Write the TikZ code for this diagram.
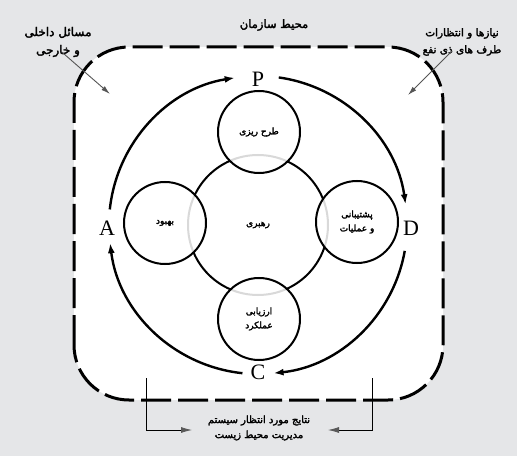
\documentclass[tikz,border=0pt]{standalone}
\usepackage{fontspec}
\newfontfamily\fafont[Script=Arabic,FakeBold=2.5]{DejaVu Sans}
\newfontfamily\letterfont{Liberation Serif}
\TeXXeTstate=1
\usetikzlibrary{arrows.meta,calc}
\definecolor{bggray}{HTML}{E5E6E8}
\definecolor{notegray}{HTML}{555555}
\begin{document}
\begin{tikzpicture}[x=1pt,y=1pt,
  ring/.style={line width=2.4pt,-{Latex[length=10pt,width=7pt]}},
  sat/.style={circle,draw,line width=2pt,fill=white,fill opacity=0.85,text opacity=1,
    minimum size=82pt,inner sep=0pt,align=center,font=\fafont\fontsize{9}{14}\selectfont},
  letter/.style={font=\letterfont\fontsize{22}{24}\selectfont,inner sep=0pt},
  fatext/.style={align=center,inner sep=0pt,font=\fafont\fontsize{10.5}{17}\selectfont},
  note/.style={draw=notegray,line width=0.9pt,-{Latex[length=9pt,width=5pt]}},
  bracket/.style={draw=black,line width=0.8pt,-{Latex[length=11pt,width=6pt,fill=black!65,color=black!65]}}]
\fill[bggray] (0,0) rectangle (517,456);
\useasboundingbox (0,0) rectangle (517,456);
% organisation boundary
\fill[white,rounded corners=55pt] (74,56) rectangle (443,409);
\draw[line width=3pt,dash pattern=on 30pt off 7pt,rounded corners=55pt] (74,56) rectangle (443,409);
% centre
\coordinate (O) at (258,231);
\node[circle,draw,line width=2pt,minimum size=140pt,inner sep=0pt,
  font=\fafont\fontsize{9}{12}\selectfont] (lead) at (O) {\beginR رهبری\endR};
% PDCA ring
\draw[ring] ($(O)+(174:149)$) arc[start angle=174,end angle=99,radius=149];
\draw[ring] ($(O)+(82:149)$) arc[start angle=82,end angle=8,radius=149];
\draw[ring] ($(O)+(-10:149)$) arc[start angle=-10,end angle=-84,radius=149];
\draw[ring] ($(O)+(-96:149)$) arc[start angle=-96,end angle=-173,radius=149];
\node[letter] (P) at (258,377) {P};
\node[letter] (D) at (411,228) {D};
\node[letter] (C) at (258,84) {C};
\node[letter] (A) at (107,228) {A};
% satellites
\node[sat] (plan) at (259,324) {\beginR طرح ریزی\endR};
\node[sat] (impr) at (165,233) {\beginR بهبود\endR};
\node[sat] (supp) at (357,234) {\beginR پشتیبانی\endR\\\beginR و عملیات\endR};
\node[sat] (eval) at (259,137) {\beginR ارزیابی\endR\\\beginR عملکرد\endR};
% annotations
\node[fatext,font=\fafont\fontsize{11.5}{17}\selectfont] (title) at (274,431) {\beginR محیط سازمان\endR};
\node[fatext,font=\fafont\fontsize{12}{18}\selectfont] (issues) at (58,414) {\beginR مسائل داخلی\endR\\\beginR و خارجی\endR};
\node[fatext] (needs) at (462,414) {\beginR نیازها و انتظارات\endR\\\beginR طرف های ذی نفع\endR};
\coordinate (itip) at (110,362);
\coordinate (ntip) at (408,361);
\draw[note] ([shift={(4pt,5pt)}]issues.south) -- (itip);
\draw[note] ([shift={(-10pt,5pt)}]needs.south) -- (ntip);
\node[fatext,font=\fafont\fontsize{10}{15}\selectfont] (res) at (259,28) {\beginR نتایج مورد انتظار سیستم\endR\\\beginR مدیریت محیط زیست\endR};
\coordinate (bl) at (146,78);
\coordinate (blt) at (192,26);
\coordinate (br) at (372,78);
\coordinate (brt) at (328,26);
\draw[bracket] (bl) |- (blt);
\draw[bracket] (br) |- (brt);
\end{tikzpicture}
\end{document}
